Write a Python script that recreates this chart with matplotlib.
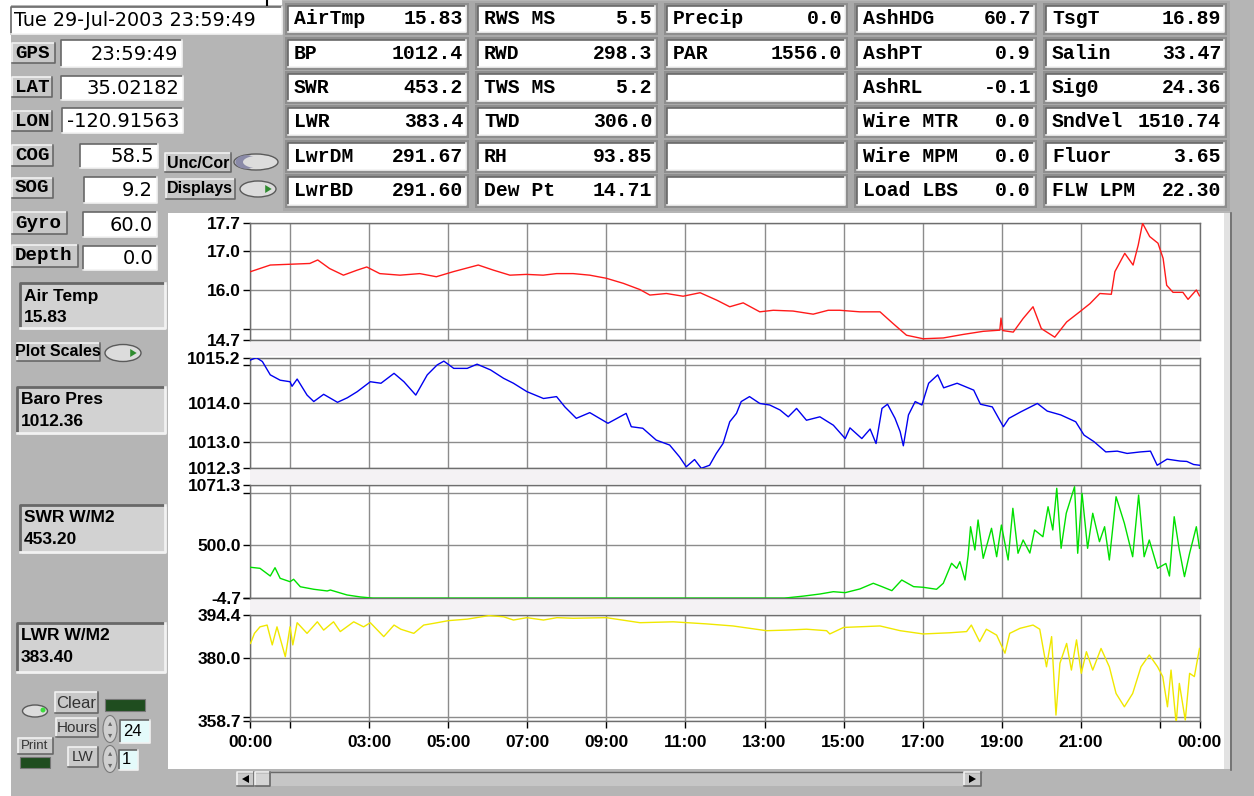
import matplotlib
matplotlib.use("Agg")
import matplotlib.pyplot as plt
from matplotlib.patches import Rectangle, Ellipse, Polygon

W, H = 1254, 796

# ---- readings off the screen (hour of day, value) ----
red_pts = [(0, 16.46), (0.5, 16.63), (1.0, 16.65), (1.5, 16.67), (1.7, 16.76), (2.0, 16.54),
           (2.35, 16.37), (2.7, 16.50), (2.94, 16.58), (3.27, 16.41), (3.78, 16.37), (4.28, 16.41),
           (4.7, 16.33), (5.13, 16.46), (5.76, 16.63), (6.14, 16.50), (6.56, 16.37), (6.98, 16.39),
           (7.4, 16.37), (7.74, 16.41), (8.16, 16.41), (8.58, 16.37), (9.0, 16.29), (9.43, 16.16),
           (9.85, 16.0), (10.1, 15.86), (10.52, 15.90), (10.94, 15.83), (11.37, 15.92), (11.79, 15.73),
           (12.12, 15.56), (12.46, 15.66), (12.88, 15.43), (13.22, 15.47), (13.72, 15.45), (14.23, 15.37),
           (14.61, 15.47), (14.9, 15.47), (15.41, 15.43), (15.92, 15.43), (16.25, 15.13), (16.59, 14.83),
           (17.01, 14.74), (17.52, 14.76), (18.02, 14.85), (18.53, 14.93), (18.95, 14.96), (18.98, 15.27),
           (19.02, 14.95), (19.29, 14.91), (19.54, 15.26), (19.79, 15.56), (20.0, 15.0), (20.34, 14.78),
           (20.64, 15.17), (20.97, 15.43), (21.23, 15.64), (21.48, 15.90), (21.77, 15.88), (21.86, 16.46),
           (22.11, 16.93), (22.32, 16.63), (22.45, 17.14), (22.56, 17.70), (22.74, 17.36), (22.95, 17.19),
           (23.08, 16.80), (23.17, 16.11), (23.33, 15.93), (23.58, 15.93), (23.71, 15.75), (23.92, 15.99),
           (24.0, 15.84)]

blue_pts = [(0, 1015.14), (0.15, 1015.2), (0.3, 1015.1), (0.5, 1014.75), (0.75, 1014.61), (1.0, 1014.57),
            (1.05, 1014.45), (1.18, 1014.64), (1.43, 1014.22), (1.6, 1014.05), (1.85, 1014.24), (2.2, 1014.03),
            (2.45, 1014.15), (2.7, 1014.31), (3.03, 1014.57), (3.3, 1014.53), (3.63, 1014.79), (3.88, 1014.57),
            (4.18, 1014.22), (4.47, 1014.75), (4.72, 1015.01), (4.89, 1015.11), (5.14, 1014.92), (5.48, 1014.92),
            (5.73, 1015.03), (6.07, 1014.88), (6.4, 1014.66), (6.65, 1014.53), (6.99, 1014.31), (7.41, 1014.13),
            (7.74, 1014.18), (7.95, 1013.91), (8.24, 1013.61), (8.58, 1013.76), (9.04, 1013.48), (9.5, 1013.74),
            (9.63, 1013.39), (9.92, 1013.35), (10.26, 1013.04), (10.6, 1012.91), (10.85, 1012.60), (11.02, 1012.34),
            (11.23, 1012.53), (11.4, 1012.30), (11.61, 1012.38), (11.78, 1012.69), (11.95, 1012.95), (12.12, 1013.52),
            (12.29, 1013.74), (12.41, 1014.05), (12.62, 1014.18), (12.88, 1014.0), (13.13, 1013.96), (13.39, 1013.83),
            (13.6, 1013.65), (13.81, 1013.87), (14.06, 1013.56), (14.4, 1013.65), (14.74, 1013.43), (15.04, 1013.08),
            (15.16, 1013.36), (15.46, 1013.08), (15.67, 1013.33), (15.82, 1012.95), (15.97, 1013.87), (16.11, 1013.98),
            (16.3, 1013.61), (16.43, 1013.26), (16.51, 1012.89), (16.64, 1013.70), (16.81, 1014.05), (16.98, 1013.96),
            (17.15, 1014.53), (17.38, 1014.75), (17.53, 1014.41), (17.87, 1014.53), (18.08, 1014.44), (18.29, 1014.35),
            (18.46, 1013.98), (18.76, 1013.91), (19.04, 1013.39), (19.18, 1013.61), (19.48, 1013.78), (19.9, 1014.0),
            (20.15, 1013.80), (20.49, 1013.70), (20.87, 1013.52), (21.08, 1013.17), (21.33, 1013.0), (21.63, 1012.73),
            (21.92, 1012.75), (22.17, 1012.69), (22.51, 1012.73), (22.76, 1012.75), (22.93, 1012.38), (23.18, 1012.54),
            (23.51, 1012.49), (23.68, 1012.48), (23.85, 1012.40), (24.0, 1012.38)]

green_pts = [(0, 290), (0.24, 280), (0.5, 207), (0.62, 286), (0.75, 185), (1.0, 153), (1.09, 176), (1.26, 105),
             (1.6, 81), (1.94, 65), (2.02, 74), (2.44, 27), (2.78, 8), (3.1, -3), (13.5, -3), (13.98, 16),
             (14.4, 36), (14.74, 58), (15.04, 49), (15.41, 84), (15.75, 138), (15.97, 106), (16.22, 68),
             (16.47, 169), (16.77, 106), (17.01, 100), (17.35, 81), (17.52, 138), (17.73, 328), (17.86, 280),
             (17.94, 343), (18.07, 169), (18.15, 406), (18.21, 675), (18.32, 454), (18.4, 739), (18.53, 375),
             (18.74, 660), (18.87, 390), (18.99, 691), (19.16, 359), (19.28, 850), (19.41, 423), (19.54, 549),
             (19.71, 425), (19.83, 644), (20.04, 580), (20.17, 865), (20.29, 644), (20.39, 1040), (20.5, 470),
             (20.63, 803), (20.84, 1055), (20.92, 423), (21.03, 992), (21.17, 470), (21.3, 803), (21.47, 533),
             (21.6, 675), (21.72, 359), (21.89, 960), (22.1, 708), (22.31, 390), (22.46, 976), (22.6, 390),
             (22.73, 549), (22.94, 280), (23.15, 326), (23.24, 207), (23.36, 770), (23.49, 454), (23.62, 201),
             (23.75, 423), (23.92, 675), (24.0, 470)]

yellow_pts = [(0, 384.8), (0.1, 388.2), (0.24, 390.4), (0.42, 391.0), (0.55, 384.3), (0.67, 390.4), (0.88, 380.3),
              (1.0, 390.4), (1.07, 384.3), (1.18, 391.8), (1.43, 388.2), (1.69, 392.1), (1.85, 389.3), (2.1, 392.1),
              (2.27, 388.8), (2.61, 392.1), (2.86, 390.4), (3.03, 391.8), (3.37, 387.1), (3.63, 391.0), (3.8, 389.6),
              (4.13, 388.2), (4.38, 391.0), (4.64, 391.6), (5.01, 392.5), (5.48, 393.0), (6.03, 394.2), (6.4, 393.8),
              (6.65, 392.7), (6.99, 393.5), (7.41, 392.7), (7.75, 393.5), (8.16, 393.3), (9.0, 393.5), (9.85, 391.8),
              (10.69, 392.1), (11.53, 391.4), (12.2, 390.7), (13.05, 389.1), (13.55, 389.3), (14.06, 389.6),
              (14.57, 389.1), (14.65, 388.0), (15.0, 390.2), (15.92, 390.7), (16.43, 389.1), (17.01, 388.0),
              (17.69, 388.4), (18.11, 388.8), (18.23, 391.0), (18.44, 385.4), (18.61, 389.6), (18.87, 387.6),
              (19.08, 381.5), (19.2, 388.2), (19.46, 389.9), (19.79, 391.0), (19.96, 389.6), (20.13, 376.9),
              (20.26, 387.1), (20.37, 360.6), (20.47, 378.1), (20.64, 384.8), (20.76, 375.8), (20.89, 386.0),
              (21.01, 374.7), (21.14, 382.0), (21.3, 375.8), (21.51, 383.1), (21.72, 376.9), (21.89, 367.9),
              (22.1, 363.4), (22.31, 367.9), (22.52, 376.9), (22.73, 380.9), (22.94, 376.9), (23.07, 373.6),
              (23.19, 363.4), (23.28, 375.8), (23.41, 357.8), (23.49, 371.3), (23.64, 358.9), (23.75, 374.7),
              (23.87, 373.6), (24.0, 383.1)]

red_ticks = [14.7, 15, 16, 17, 17.7]
red_labels = ['14.7', '', '16.0', '17.0', '17.7']
blue_ticks = [1012.3, 1013, 1014, 1015, 1015.2]
blue_labels = ['1012.3', '1013.0', '1014.0', '', '1015.2']
green_ticks = [-4.7, 0, 500, 1000, 1071.3]
green_labels = ['-4.7', '', '500.0', '', '1071.3']
yellow_ticks = [358.7, 360, 380, 394.4]
yellow_labels = ['358.7', '', '380.0', '394.4']

hour_ticks = [0, 1, 3, 5, 7, 9, 11, 13, 15, 17, 19, 21, 23, 24]
hour_labels = ['00:00', '', '03:00', '05:00', '07:00', '09:00', '11:00', '13:00',
               '15:00', '17:00', '19:00', '21:00', '', '00:00']

# top indicator grid, one list per column
grid_cols = [
    [('AirTmp', '15.83'), ('BP', '1012.4'), ('SWR', '453.2'), ('LWR', '383.4'), ('LwrDM', '291.67'), ('LwrBD', '291.60')],
    [('RWS MS', '5.5'), ('RWD', '298.3'), ('TWS MS', '5.2'), ('TWD', '306.0'), ('RH', '93.85'), ('Dew Pt', '14.71')],
    [('Precip', '0.0'), ('PAR', '1556.0'), ('', ''), ('', ''), ('', ''), ('', '')],
    [('AshHDG', '60.7'), ('AshPT', '0.9'), ('AshRL', '-0.1'), ('Wire MTR', '0.0'), ('Wire MPM', '0.0'), ('Load LBS', '0.0')],
    [('TsgT', '16.89'), ('Salin', '33.47'), ('Sig0', '24.36'), ('SndVel', '1510.74'), ('Fluor', '3.65'), ('FLW LPM', '22.30')],
]
nav_fields = [('GPS', '23:59:49'), ('LAT', '35.02182'), ('LON', '-120.91563'), ('COG', '58.5'),
              ('SOG', '9.2'), ('Gyro', '60.0'), ('Depth', '0.0')]
side_readouts = [('Air Temp', '15.83'), ('Baro Pres', '1012.36'), ('SWR W/M2', '453.20'), ('LWR W/M2', '383.40')]
timestamp = 'Tue 29-Jul-2003 23:59:49'

PANEL = '#b5b5b5'
MONO = 'Liberation Mono'
SANS = 'DejaVu Sans'
ARIAL = 'Liberation Sans'

fig = plt.figure(figsize=(W / 100, H / 100), dpi=100, facecolor='white')
bg = fig.add_axes([0, 0, 1, 1])
bg.set_xlim(0, W)
bg.set_ylim(H, 0)
bg.axis('off')


def rect(x0, y0, x1, y1, fc, ec='none', lw=0, z=1):
    bg.add_patch(Rectangle((x0, y0), x1 - x0, y1 - y0, facecolor=fc, edgecolor=ec, linewidth=lw, zorder=z))


def bevel(x0, y0, x1, y1, fc, raised=True, lw=1.2):
    rect(x0, y0, x1, y1, fc)
    hi, lo = ('#f2f2f2', '#686868') if raised else ('#686868', '#f2f2f2')
    bg.plot([x0, x0, x1], [y1, y0, y0], color=hi, lw=lw, zorder=2)
    bg.plot([x0, x1, x1], [y1, y1, y0], color=lo, lw=lw, zorder=2)


def txt(x, y, s, size, ha='left', family=SANS, weight='normal', color='black'):
    bg.text(x, y, s, fontsize=size, ha=ha, va='center', family=family, weight=weight, color=color, zorder=3)


def toggle(cx, cy, w, h, arrow=True, dark_left=False):
    bg.add_patch(Ellipse((cx, cy), w, h, facecolor='#dcdcdc', edgecolor='#5a5a5a', lw=1, zorder=2))
    if dark_left:
        bg.add_patch(Ellipse((cx - w * 0.22, cy), w * 0.5, h * 0.85, facecolor='#8a8aa8', edgecolor='none', zorder=2))
        bg.add_patch(Ellipse((cx + w * 0.08, cy), w * 0.75, h * 0.8, facecolor='#dcdcdc', edgecolor='none', zorder=2))
    if arrow:
        bg.add_patch(Polygon([(cx + w * 0.2, cy - 4), (cx + w * 0.2, cy + 4), (cx + w * 0.38, cy)],
                             closed=True, facecolor='#2e8b2e', edgecolor='none', zorder=3))


# panel background
rect(11, 0, W, H, PANEL, z=0)
rect(0, 0, 282, 5, 'white', z=0)
bg.plot([267, 267], [0, 5], color='black', lw=1.5, zorder=2)

# top indicator grid
col_x = [(288, 466), (478, 655), (667, 845), (857, 1034), (1046, 1224)]
row_y = [(6, 32), (40, 67), (74, 101), (108, 135), (143, 170), (177, 205)]
rect(283, 1, 1230, 211, '#a9a9a9', z=0)
for (x0, x1), cells in zip(col_x, grid_cols):
    for (y0, y1), (lab, val) in zip(row_y, cells):
        rect(x0 - 3, y0 - 3, x1 + 3, y1 + 3, '#8e8e8e')
        bevel(x0, y0, x1, y1, 'white', raised=False)
        yc = (y0 + y1) / 2
        txt(x0 + 6, yc, lab, 14.2, family=MONO, weight='bold')
        txt(x1 - 3, yc, val, 14.2, ha='right', family=MONO, weight='bold')

# timestamp + navigation fields
bevel(11, 7, 282, 34, 'white', raised=False)
txt(14, 21, timestamp, 13.8)
nav_boxes = [((12, 43, 55, 63), (61, 40, 182, 67)), ((12, 77, 52, 97), (61, 76, 183, 100)),
             ((12, 111, 52, 131), (62, 108, 183, 133)), ((12, 145, 53, 166), (80, 144, 158, 168)),
             ((12, 178, 53, 198), (84, 177, 157, 203)), ((12, 212, 67, 234), (83, 212, 157, 237)),
             ((12, 245, 78, 267), (83, 246, 157, 270))]
for (lab, val), (lb, vb) in zip(nav_fields, nav_boxes):
    bevel(*lb, '#c8c8c8', raised=True)
    txt(lb[0] + 3, (lb[1] + lb[3]) / 2, lab, 13.8, family=MONO, weight='bold')
    bevel(*vb, 'white', raised=False)
    txt(vb[2] - 4, (vb[1] + vb[3]) / 2 + 1, val, 14, ha='right')

bevel(165, 153, 231, 172, '#c8c8c8', raised=True)
txt(198, 163, 'Unc/Cor', 11.5, ha='center', family=ARIAL, weight='bold')
toggle(256, 162, 44, 16, arrow=False, dark_left=True)
bevel(166, 179, 235, 199, '#c8c8c8', raised=True)
txt(200, 189, 'Displays', 11.5, ha='center', family=ARIAL, weight='bold')
toggle(258, 189, 36, 16)

# side readouts
side_boxes = [(20, 283, 165, 328), (17, 387, 165, 433), (20, 505, 165, 552), (17, 623, 165, 672)]
for (lab, val), (x0, y0, x1, y1) in zip(side_readouts, side_boxes):
    bevel(x0, y0, x1, y1, '#d2d2d2', raised=False, lw=2)
    txt(x0 + 4, y0 + 13, lab, 12.5, family=ARIAL, weight='bold')
    txt(x0 + 4, y0 + 34, val, 12.5, family=ARIAL, weight='bold')

bevel(17, 343, 100, 361, '#c8c8c8', raised=True)
txt(58, 352, 'Plot Scales', 11.5, ha='center', family=ARIAL, weight='bold')
toggle(123, 353, 36, 17)

# bottom controls
toggle(35, 711, 25, 12, arrow=False)
bg.add_patch(Ellipse((43, 710), 5, 5, facecolor='#3ddc3d', edgecolor='none', zorder=3))
bevel(55, 692, 98, 713, '#c8c8c8', raised=True)
txt(76, 703, 'Clear', 12, ha='center', family=ARIAL, color='#333333')
rect(105, 699, 145, 711, '#1f4d1f', ec='#777777', lw=0.8, z=2)
bevel(56, 718, 98, 737, '#c8c8c8', raised=True)
txt(77, 728, 'Hours', 11, ha='center', family=ARIAL, color='#333333')
bevel(18, 738, 53, 754, '#c8c8c8', raised=True)
txt(35, 746, 'Print', 9.5, ha='center', family=ARIAL, color='#333333')
rect(20, 757, 50, 768, '#1f4d1f', ec='#777777', lw=0.8, z=2)
bevel(68, 747, 98, 767, '#c8c8c8', raised=True)
txt(83, 757, 'LW', 11, ha='center', family=ARIAL, color='#333333')
for cy in (729, 759):
    bg.add_patch(Ellipse((110, cy), 14, 27, facecolor='#cfcfcf', edgecolor='#7a7a7a', lw=0.8, zorder=2))
    txt(110, cy - 6, '\u25b4', 6, ha='center', color='#666666')
    txt(110, cy + 6, '\u25be', 6, ha='center', color='#666666')
bevel(120, 720, 150, 743, '#e4fafa', raised=False)
txt(123, 732, '24', 12, family=ARIAL)
bevel(119, 750, 138, 770, '#e4fafa', raised=False)
txt(122, 760, '1', 12, family=ARIAL)

# chart panel
rect(168, 213, 1224, 769, 'white', z=1)
rect(1224, 213, 1230, 769, '#e2e2e2', z=1)
bg.plot([1231, 1231], [213, 770], color='#6a6a6a', lw=1.2, zorder=2)
rect(250, 341, 1200, 356, '#f4f2f4', z=1)
rect(250, 469, 1200, 484, '#f4f2f4', z=1)
rect(250, 599, 1200, 614, '#f4f2f4', z=1)

# scroll bar
rect(237, 772, 981, 786, '#c6c6c6', z=1)
bg.plot([237, 981], [772, 772], color='#6a6a6a', lw=1, zorder=2)
bevel(237, 772, 254, 786, '#c8c8c8', raised=True)
bevel(255, 772, 270, 786, '#d4d4d4', raised=True)
bevel(964, 772, 981, 786, '#c8c8c8', raised=True)
bg.add_patch(Polygon([(249, 775), (249, 783), (242, 779)], closed=True, facecolor='black', zorder=3))
bg.add_patch(Polygon([(969, 775), (969, 783), (976, 779)], closed=True, facecolor='black', zorder=3))

# the four strip charts
strips = [
    (red_pts, '#ff1a1a', 223.3, 340.3, red_ticks, red_labels),
    (blue_pts, '#0000f0', 357.7, 468.3, blue_ticks, blue_labels),
    (green_pts, '#00e000', 485.0, 598.3, green_ticks, green_labels),
    (yellow_pts, '#f0e800', 615.0, 720.7, yellow_ticks, yellow_labels),
]
x_left, x_right = 250.5, 1199.5
for i, (pts, color, top, bottom, yt, yl) in enumerate(strips):
    ax = fig.add_axes([x_left / W, 1 - bottom / H, (x_right - x_left) / W, (bottom - top) / H])
    ax.set_facecolor('white')
    t, v = zip(*pts)
    ax.plot(t, v, color=color, lw=1.0, zorder=3)
    ax.set_xlim(0, 24)
    ax.set_ylim(yt[0], yt[-1])
    ax.set_yticks(yt)
    ax.set_yticklabels(yl, fontsize=12.5, fontweight='bold', family=ARIAL)
    ax.set_xticks(hour_ticks)
    ax.grid(True, color='#8c8c8c', lw=1.0, zorder=1)
    ax.set_axisbelow(True)
    ax.tick_params(axis='y', length=5, width=1, color='black', pad=2)
    for s in ax.spines.values():
        s.set_color('#6e6e6e')
        s.set_linewidth(1.0)
    if i == len(strips) - 1:
        ax.set_xticklabels(hour_labels, fontsize=12.5, fontweight='bold', family=ARIAL)
        ax.tick_params(axis='x', length=5, width=1, color='black', pad=5)
    else:
        ax.set_xticklabels([])
        ax.tick_params(axis='x', length=0)

fig.savefig('out.png', dpi=100, facecolor='white')
